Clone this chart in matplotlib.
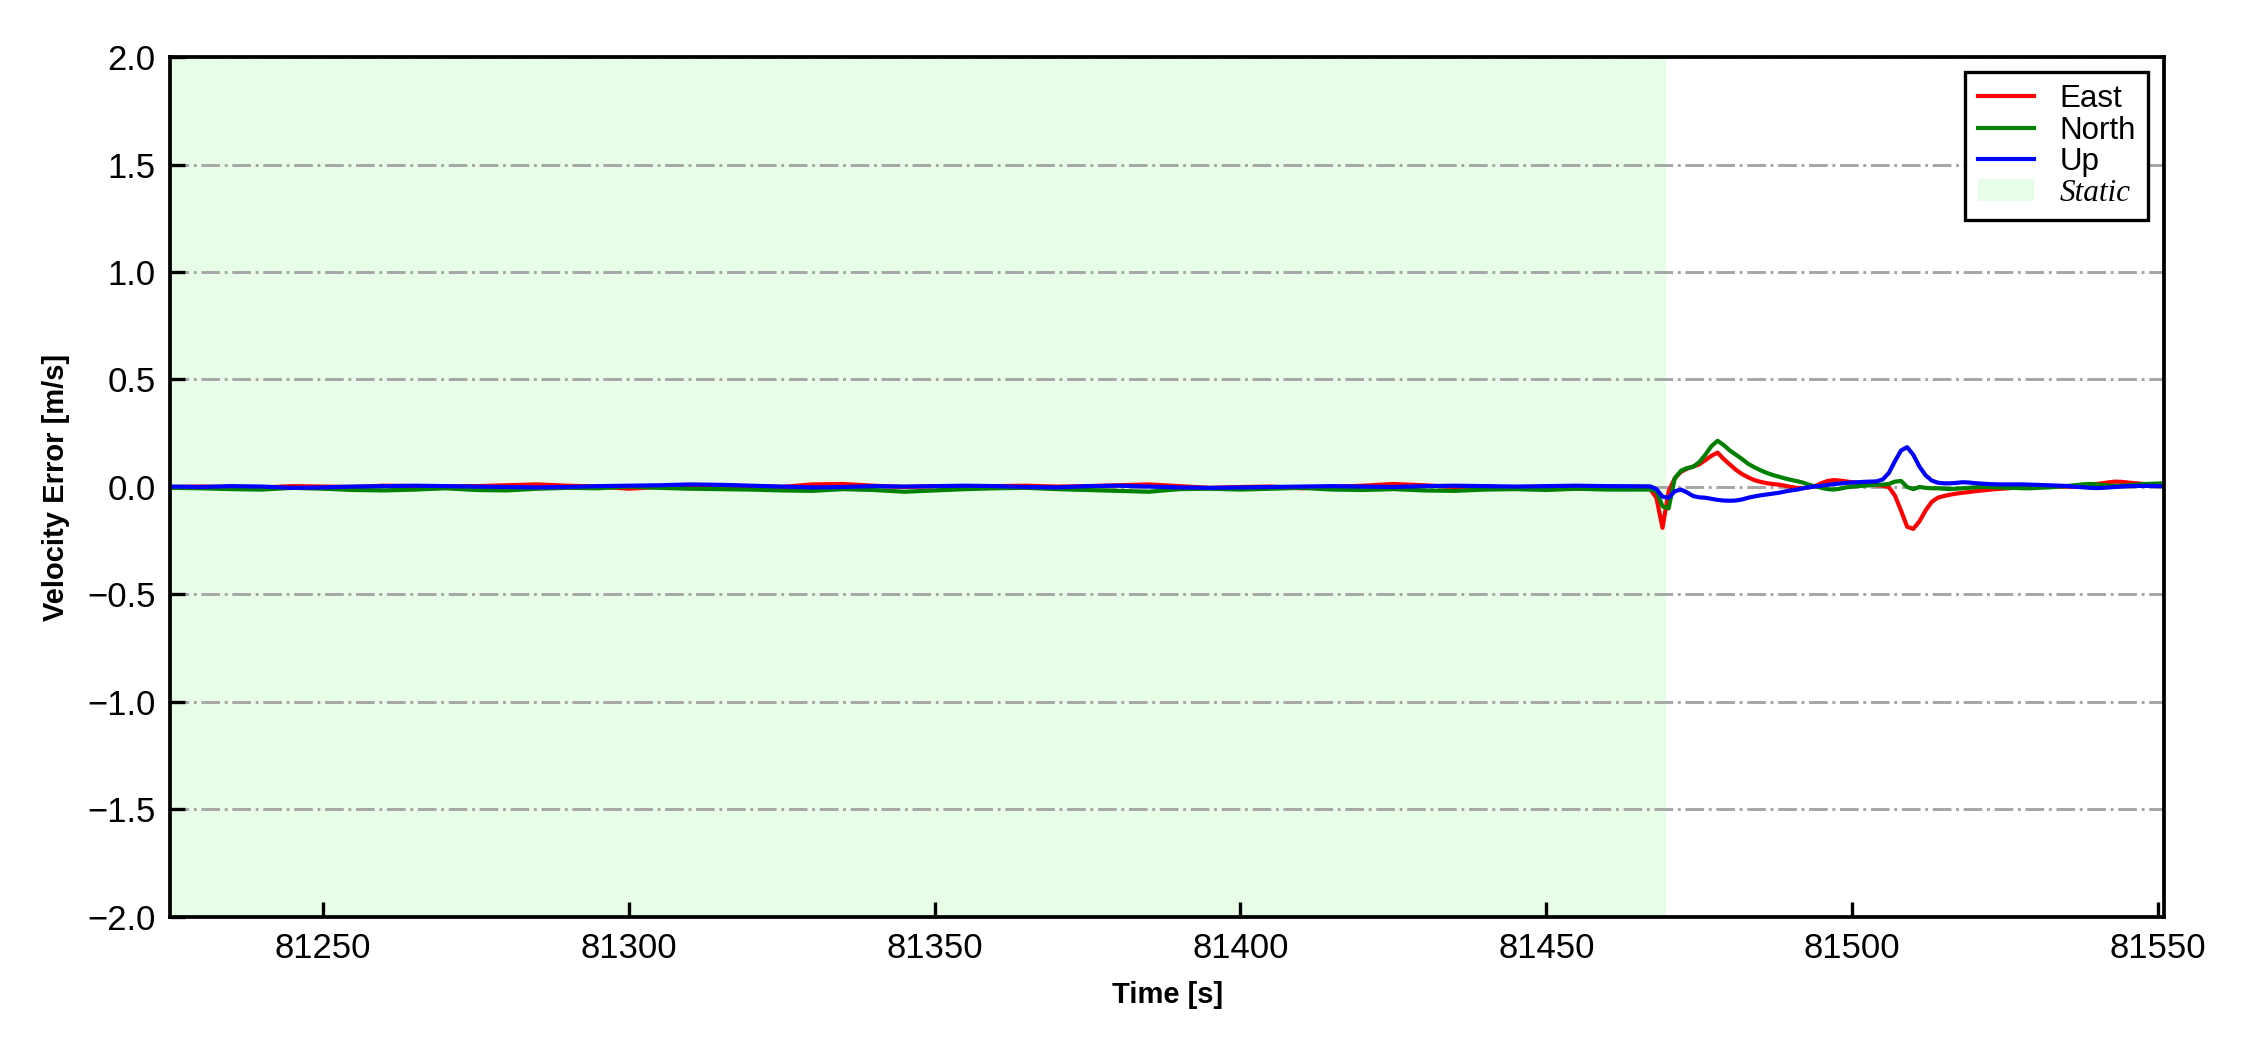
import numpy as np
import matplotlib
matplotlib.use("Agg")
import matplotlib.pyplot as plt
from matplotlib.patches import Patch
from matplotlib.lines import Line2D

plt.rcParams['font.family'] = ['Liberation Sans', 'DejaVu Sans']

# time axis: coarse sampling during the static period, 1 s afterwards
t_static = np.arange(81225, 81466, 5)
t_dyn = np.arange(81466, 81552, 1)
t = np.concatenate([t_static, t_dyn])
static_end = 81469.5

# velocity errors [m/s]
east_static = [
    0.000, 0.002, 0.000, -0.002, 0.004, 0.002, 0.000, 0.006, 0.004, 0.002,
    0.004, 0.008, 0.012, 0.006, 0.002, -0.008, 0.000, 0.004, 0.006, 0.004,
    0.000, 0.012, 0.014, 0.006, 0.000, 0.004, 0.002, 0.004, 0.006, 0.002,
    0.004, 0.008, 0.012, 0.004, -0.004, 0.000, 0.002, -0.006, 0.000, 0.006,
    0.014, 0.008, 0.000, 0.002, -0.004, -0.002, -0.008, -0.004, 0.000]
east_dyn = [
    -0.005, -0.010, -0.050, -0.190, -0.020, 0.040, 0.070, 0.085, 0.095, 0.105,
    0.125, 0.145, 0.160, 0.130, 0.105, 0.080, 0.060, 0.045, 0.032, 0.024,
    0.018, 0.014, 0.011, 0.006, 0.000, -0.004, -0.005, -0.002, 0.005, 0.018,
    0.028, 0.032, 0.030, 0.026, 0.022, 0.020, 0.016, 0.012, 0.008, 0.006,
    0.000, -0.040, -0.110, -0.185, -0.195, -0.160, -0.110, -0.070, -0.050, -0.042,
    -0.036, -0.031, -0.027, -0.024, -0.020, -0.017, -0.014, -0.011, -0.009, -0.007,
    -0.005, -0.003, -0.002, 0.000, 0.001, 0.002, 0.002, 0.002, 0.002, 0.002,
    0.001, 0.000, 0.004, 0.010, 0.014, 0.018, 0.022, 0.025, 0.024, 0.021,
    0.018, 0.016, 0.013, 0.011, 0.009, 0.008]

north_static = [
    -0.004, -0.006, -0.010, -0.012, -0.004, -0.008, -0.014, -0.016, -0.012, -0.006,
    -0.014, -0.016, -0.008, -0.004, -0.006, 0.002, -0.004, -0.008, -0.010, -0.012,
    -0.016, -0.018, -0.010, -0.014, -0.022, -0.016, -0.010, -0.006, -0.004, -0.010,
    -0.014, -0.018, -0.022, -0.010, -0.008, -0.012, -0.008, -0.004, -0.012, -0.014,
    -0.010, -0.016, -0.018, -0.012, -0.010, -0.014, -0.008, -0.012, -0.012]
north_dyn = [
    -0.012, -0.012, -0.020, -0.090, -0.100, 0.040, 0.075, 0.088, 0.094, 0.115,
    0.150, 0.190, 0.215, 0.195, 0.170, 0.150, 0.130, 0.108, 0.092, 0.078,
    0.066, 0.056, 0.048, 0.040, 0.033, 0.027, 0.020, 0.010, 0.003, -0.004,
    -0.010, -0.012, -0.008, -0.002, 0.002, 0.004, 0.006, 0.008, 0.010, 0.011,
    0.014, 0.025, 0.028, 0.000, -0.010, 0.000, -0.004, -0.006, -0.006, -0.008,
    -0.010, -0.008, -0.006, -0.004, -0.002, 0.000, 0.000, -0.001, -0.002, -0.003,
    -0.004, -0.005, -0.006, -0.006, -0.005, -0.003, -0.002, 0.000, 0.002, 0.004,
    0.007, 0.010, 0.013, 0.014, 0.012, 0.009, 0.006, 0.005, 0.006, 0.008,
    0.010, 0.012, 0.014, 0.015, 0.016, 0.017]

up_static = [
    0.002, 0.000, 0.004, 0.002, -0.004, -0.002, 0.002, 0.004, 0.006, 0.004,
    0.002, 0.000, -0.002, 0.000, 0.004, 0.006, 0.008, 0.012, 0.010, 0.006,
    0.002, -0.002, 0.000, 0.004, 0.002, 0.004, 0.006, 0.004, 0.000, -0.002,
    0.004, 0.006, 0.002, -0.002, -0.004, -0.002, 0.000, 0.002, 0.004, 0.002,
    0.000, 0.004, 0.006, 0.004, 0.002, 0.004, 0.006, 0.004, 0.003]
up_dyn = [
    0.003, 0.003, -0.010, -0.045, -0.050, -0.020, -0.012, -0.025, -0.042, -0.048,
    -0.050, -0.055, -0.060, -0.063, -0.064, -0.063, -0.058, -0.050, -0.044, -0.039,
    -0.035, -0.031, -0.027, -0.021, -0.016, -0.012, -0.006, -0.001, 0.003, 0.006,
    0.010, 0.013, 0.016, 0.019, 0.021, 0.022, 0.024, 0.025, 0.026, 0.035,
    0.065, 0.120, 0.170, 0.185, 0.150, 0.095, 0.055, 0.030, 0.020, 0.017,
    0.017, 0.019, 0.022, 0.021, 0.018, 0.016, 0.014, 0.013, 0.012, 0.012,
    0.012, 0.012, 0.012, 0.011, 0.010, 0.009, 0.008, 0.007, 0.006, 0.005,
    0.002, 0.000, -0.002, -0.004, -0.005, -0.004, -0.002, 0.000, 0.002, 0.004,
    0.005, 0.005, 0.005, 0.005, 0.004, 0.004]

east = np.array(east_static + east_dyn)
north = np.array(north_static + north_dyn)
up = np.array(up_static + up_dyn)

fig = plt.figure(figsize=(7.5, 3.5), dpi=300)
ax = fig.add_axes([0.0756, 0.1267, 0.8862, 0.819])

ax.axvspan(t[0], static_end, color='#e8fde8', lw=0, zorder=0)
ax.plot(t, east, color='red', lw=1.0, label='East')
ax.plot(t, north, color='green', lw=1.0, label='North')
ax.plot(t, up, color='blue', lw=1.0, label='Up')

ax.set_xlim(81225, 81551)
ax.set_ylim(-2, 2)
ax.set_yticks(np.arange(-2, 2.01, 0.5))
ax.set_xticks([81250, 81300, 81350, 81400, 81450, 81500, 81550])
ax.yaxis.grid(True, linestyle='-.', color='#a6a6a6', lw=0.7)
ax.set_axisbelow(True)
ax.tick_params(direction='in', length=3.5, width=0.8, labelsize=8.3)
for s in ax.spines.values():
    s.set_linewidth(0.9)

ax.set_xlabel('Time [s]', fontsize=7, fontweight='bold')
ax.set_ylabel('Velocity Error [m/s]', fontsize=7, fontweight='bold')

handles = [Line2D([], [], color='red', lw=1.0),
           Line2D([], [], color='green', lw=1.0),
           Line2D([], [], color='blue', lw=1.0),
           Patch(facecolor='#e8fde8', edgecolor='none')]
leg = ax.legend(handles, ['East', 'North', 'Up', 'Static'], loc='upper right',
                fontsize=7.5, fancybox=False, framealpha=1, edgecolor='black',
                handlelength=1.8, borderpad=0.4, labelspacing=0.05,
                handletextpad=0.8, borderaxespad=0,
                bbox_to_anchor=(0.992, 0.983))
leg.get_frame().set_linewidth(0.8)
leg.get_texts()[3].set_family('Liberation Serif')
leg.get_texts()[3].set_style('italic')

fig.savefig('out.png', dpi=300)
